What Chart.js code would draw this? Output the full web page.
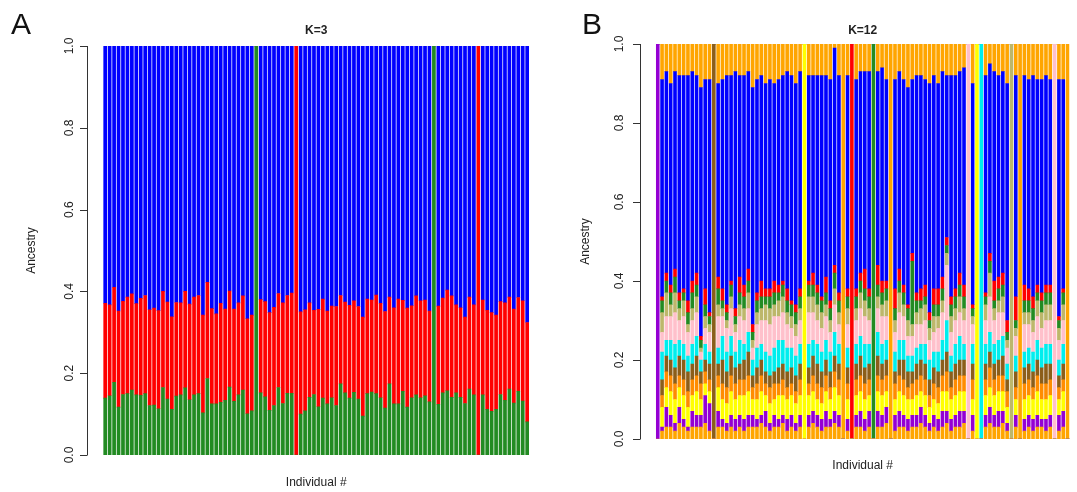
<!DOCTYPE html>
<html lang="en">
  <head>
    <meta charset="UTF-8" />
    <title>Ancestry K=3 / K=12</title>
    <script src="https://cdn.jsdelivr.net/npm/chart.js"></script>
    <style>
      body { margin: 0; background: #fff; }
      #wrap { position: relative; width: 1077px; height: 492px; }
      canvas { position: absolute; top: 0; }
      #chartA { left: 0; }
      #chartB { left: 540px; }
    </style>
  </head>
  <body>
    <div id="wrap">
      <canvas id="chartA" width="540" height="492"></canvas>
      <canvas id="chartB" width="537" height="492"></canvas>
    </div>
    <script>
      // 96 individuals, same order in both panels
      const individuals = Array.from({ length: 96 }, (_, i) => String(i + 1));
      const yTicks = [0, 0.2, 0.4, 0.6, 0.8, 1];
      const yTickLabels = ["0.0", "0.2", "0.4", "0.6", "0.8", "1.0"];
      const yTitle = "Ancestry";
      const xTitle = "Individual #";

      // Panel A (K=3): cumulative ancestry, top edge of each cluster segment
      const aGreenTop = [
        .139, .145, .178, .117, .148, .150, .159, .147, .146, .150, .121, .122,
        .113, .165, .137, .112, .144, .147, .164, .135, .147, .150, .103, .187,
        .125, .125, .129, .134, .166, .131, .147, .159, .101, .108, 1, .152,
        .142, .109, .121, .165, .126, .151, .151, 0, .100, .108, .141, .148,
        .118, .139, .125, .140, .121, .174, .152, .139, .153, .137, .095, .150,
        .154, .150, .140, .115, .174, .125, .125, .156, .117, .140, .147, .140,
        .145, .130, 1, .124, .152, .157, .141, .152, .141, .126, .161, .147,
        0, .147, .112, .107, .112, .148, .134, .161, .127, .156, .132, .081
      ];
      const aRedTop = [
        .371, .367, .410, .352, .376, .386, .394, .370, .383, .390, .355, .359,
        .353, .400, .374, .338, .373, .372, .400, .369, .386, .390, .342, .422,
        .358, .345, .371, .357, .401, .357, .372, .389, .333, .342, 1, .380,
        .375, .348, .361, .395, .372, .390, .396, 1, .350, .355, .372, .354,
        .356, .381, .352, .364, .363, .390, .374, .366, .377, .363, .337, .381,
        .379, .391, .371, .351, .386, .360, .381, .378, .359, .365, .389, .377,
        .379, .352, 1, .364, .384, .403, .389, .367, .360, .337, .386, .367,
        1, .379, .354, .348, .342, .375, .372, .386, .357, .385, .377, .324
      ];

      // Panel B (K=12): cumulative ancestry, bottom to top
      const cumOrangeLow = [
        0, .02, .03, .03, .02, .04, .03, .02, .03, .03, .03, .04,
        .02, 0, .03, .03, .02, .03, .02, .03, .02, .03, .03, .03,
        .04, .03, .02, .03, .03, .04, .02, .03, .02, .03, 0, .03,
        .04, .03, .02, .03, .03, .04, .03, 0, .02, 0, .03, .03,
        .02, .03, 0, .03, .03, .04, 0, .02, .03, .03, .02, .03,
        .03, .04, .03, .02, .03, .02, .03, .04, .02, .03, .03, .04,
        0, .02, 0, 0, .03, .04, .03, .03, .04, .02, 0, .03,
        0, .02, .03, .02, .03, .03, .02, .03, 0, .02, .03, 0
      ];
      const cumPurple = [
        1, .03, .08, .06, .04, .08, .05, .03, .07, .06, .06, .11,
        .09, 0, .07, .05, .04, .06, .05, .06, .05, .06, .06, .05,
        .06, .07, .04, .06, .05, .06, .05, .06, .04, .06, 0, .06,
        .07, .06, .05, .07, .05, .07, .06, 0, .05, 0, .06, .07,
        .05, .07, 0, .07, .06, .08, 0, .06, .07, .06, .05, .06,
        .06, .08, .06, .04, .06, .05, .07, .07, .05, .06, .07, .07,
        0, .06, 0, 0, .06, .08, .06, .07, .07, .04, 0, .06,
        0, .05, .06, .05, .06, .05, .05, .06, 0, .06, .07, 0
      ];
      const cumYellow = [
        1, .08, .13, .12, .10, .13, .11, .08, .11, .12, .10, .14,
        .12, 0, .13, .10, .09, .12, .10, .11, .11, .12, .10, .10,
        .12, .11, .09, .10, .11, .11, .10, .11, .09, .11, 1, .11,
        .12, .10, .09, .12, .10, .13, .11, 0, .10, 0, .11, .12,
        .10, .11, 0, .12, .11, .12, 0, .10, .12, .11, .10, .10,
        .11, .12, .11, .08, .10, .09, .12, .12, .10, .11, .12, .12,
        0, .10, 1, 0, .11, .13, .11, .12, .12, .08, 0, .10,
        0, .10, .11, .10, .12, .10, .10, .11, 0, .10, .12, 0
      ];
      const cumDarkOrange = [
        1, .11, .17, .16, .14, .16, .15, .12, .15, .16, .14, .17,
        .15, 0, .16, .14, .13, .16, .14, .15, .15, .16, .13, .14,
        .16, .14, .13, .14, .14, .15, .13, .14, .12, .15, 1, .14,
        .16, .14, .13, .16, .13, .17, .15, 0, .14, 0, .15, .16,
        .14, .15, 0, .16, .15, .16, 0, .14, .16, .15, .13, .14,
        .15, .16, .15, .11, .14, .13, .16, .17, .13, .15, .16, .16,
        0, .15, 1, 0, .15, .18, .15, .16, .16, .12, 0, .13,
        0, .14, .15, .13, .16, .14, .14, .15, 0, .13, .15, 0
      ];
      const cumBrown = [
        1, .15, .21, .20, .18, .21, .20, .17, .19, .21, .17, .20,
        .19, 1, .19, .20, .17, .21, .18, .19, .20, .22, .16, .18,
        .20, .17, .16, .17, .18, .19, .17, .18, .16, .19, 1, .18,
        .21, .19, .17, .20, .17, .21, .19, 0, .18, 0, .19, .21,
        .18, .19, 0, .21, .19, .20, 0, .17, .20, .20, .17, .17,
        .19, .20, .19, .15, .18, .17, .20, .22, .17, .19, .20, .20,
        0, .19, 1, 0, .19, .22, .19, .20, .21, .15, 0, .17,
        0, .18, .19, .17, .20, .18, .19, .19, 0, .16, .19, 0
      ];
      const cumCyan = [
        1, .22, .25, .25, .24, .25, .24, .21, .24, .26, .20, .24,
        .22, 1, .23, .26, .22, .26, .22, .25, .24, .27, .20, .23,
        .24, .22, .21, .23, .25, .25, .23, .23, .21, .24, 1, .24,
        .25, .24, .22, .25, .22, .27, .24, 0, .23, 0, .24, .26,
        .24, .24, 0, .27, .24, .25, 0, .22, .25, .25, .21, .21,
        .23, .24, .24, .20, .22, .22, .25, .30, .21, .24, .26, .24,
        0, .24, 1, 1, .24, .27, .24, .25, .26, .19, 0, .21,
        0, .22, .23, .22, .25, .23, .24, .24, 0, .20, .24, 0
      ];
      const cumPink = [
        1, .27, .31, .31, .32, .30, .31, .27, .30, .32, .22, .28,
        .27, 1, .31, .31, .28, .33, .27, .31, .30, .33, .23, .29,
        .30, .30, .29, .31, .31, .32, .29, .28, .26, .30, 1, .32,
        .32, .30, .28, .31, .27, .34, .29, 0, .29, 0, .30, .33,
        .31, .30, 0, .33, .31, .31, 0, .27, .32, .31, .26, .26,
        .29, .29, .30, .25, .27, .28, .32, .44, .27, .30, .32, .30,
        1, .29, 1, 1, .30, .36, .30, .32, .32, .23, 0, .26,
        0, .29, .29, .27, .31, .28, .30, .30, 1, .25, .30, 0
      ];
      const cumKhaki = [
        1, .32, .37, .34, .37, .33, .35, .29, .33, .36, .23, .31,
        .29, 1, .34, .33, .30, .36, .29, .34, .33, .37, .25, .32,
        .33, .34, .33, .34, .35, .36, .32, .31, .29, .33, 1, .36,
        .36, .34, .32, .34, .30, .38, .32, 0, .33, 0, .33, .37,
        .35, .33, 0, .36, .34, .35, 0, .30, .37, .34, .30, .29,
        .32, .33, .34, .28, .31, .31, .35, .47, .31, .33, .36, .33,
        1, .31, 1, 1, .34, .42, .33, .35, .36, .25, 1, .28,
        0, .32, .32, .30, .35, .32, .34, .34, 1, .28, .34, 0
      ];
      const cumGreen = [
        1, .35, .40, .37, .41, .35, .37, .32, .37, .39, .25, .34,
        .31, 1, .38, .35, .32, .39, .31, .37, .36, .40, .27, .35,
        .36, .36, .36, .37, .37, .39, .35, .34, .32, .36, 1, .39,
        .39, .37, .35, .37, .33, .42, .35, 0, .36, 0, .36, .40,
        .38, .36, 1, .39, .37, .38, 0, .33, .40, .37, .33, .45,
        .35, .35, .36, .30, .34, .34, .38, .49, .34, .36, .39, .36,
        1, .33, 1, 1, .36, .45, .35, .38, .39, .27, 1, .30,
        0, .35, .35, .33, .37, .35, .37, .37, 1, .30, .37, 0
      ];
      const cumRed = [
        1, .36, .42, .39, .43, .37, .38, .35, .40, .42, .26, .38,
        .32, 1, .41, .38, .34, .40, .33, .41, .39, .43, .29, .37,
        .40, .38, .38, .40, .39, .40, .38, .35, .34, .38, 1, .40,
        .42, .39, .36, .41, .35, .44, .37, 0, .38, 1, .38, .42,
        .43, .38, 1, .44, .40, .40, 0, .38, .43, .39, .34, .47,
        .37, .38, .39, .32, .38, .38, .41, .51, .36, .38, .42, .39,
        1, .34, 1, 1, .37, .47, .40, .41, .42, .30, 1, .36,
        0, .39, .38, .36, .39, .37, .39, .39, 1, .31, .38, 0
      ];
      const cumBlue = [
        1, .91, .93, .90, .93, .92, .92, .92, .93, .92, .89, .91,
        .91, 1, .90, .91, .92, .92, .93, .92, .92, .93, .89, .91,
        .92, .90, .91, .90, .91, .92, .93, .92, .90, .93, 1, .92,
        .92, .92, .92, .92, .91, .99, .92, 0, .92, 1, .91, .93,
        .93, .93, 1, .93, .94, .91, 0, .91, .93, .91, .89, .91,
        .92, .92, .91, .90, .92, .90, .93, .92, .92, .92, .93, .94,
        1, .90, 1, 1, .92, .95, .93, .92, .93, .90, 1, .92,
        0, .92, .91, .92, .91, .91, .92, .91, 1, .91, .91, 0
      ];

      const colorsA = ["#228B22", "#FF0000", "#0000FF"];
      const colorsB = [
        "#FFA500", "#9400D3", "#FFFF00", "#FF8C00", "#8B5E1A", "#00EEEE",
        "#FFC0CB", "#BDB76B", "#228B22", "#FF0000", "#0000FF", "#FFA500"
      ];

      const FONT = '"Liberation Sans", Arial, sans-serif';

      // floating segments [low, high] from cumulative tops
      function segments(tops, colors) {
        return colors.map((c, k) => ({
          data: individuals.map((_, i) => [
            k === 0 ? 0 : tops[k - 1][i],
            k === tops.length ? 1 : tops[k][i],
          ]),
          backgroundColor: c,
          borderWidth: 0,
          grouped: false,
          barPercentage: 0.7,
          categoryPercentage: 1,
          inflateAmount: 0.3,
        }));
      }

      // R-style axis, titles and panel letter
      const rFrame = {
        id: "rFrame",
        afterDraw(chart, args, o) {
          const ctx = chart.ctx;
          const y = chart.scales.y;
          const area = chart.chartArea;
          const top = y.getPixelForValue(1);
          const bot = y.getPixelForValue(0);
          const mid = (area.left + area.right) / 2;
          ctx.save();
          ctx.strokeStyle = "#333";
          ctx.lineWidth = 1;
          ctx.beginPath();
          ctx.moveTo(o.axisX + 0.5, top);
          ctx.lineTo(o.axisX + 0.5, bot);
          yTicks.forEach((v) => {
            const p = Math.round(y.getPixelForValue(v)) + 0.5;
            ctx.moveTo(o.axisX - 7, p);
            ctx.lineTo(o.axisX + 0.5, p);
          });
          ctx.stroke();

          ctx.fillStyle = "#222";
          ctx.textAlign = "center";
          ctx.textBaseline = "middle";
          ctx.font = "12px " + FONT;
          yTicks.forEach((v, i) => {
            ctx.save();
            ctx.translate(o.labelX, y.getPixelForValue(v));
            ctx.rotate(-Math.PI / 2);
            ctx.fillText(yTickLabels[i], 0, 0);
            ctx.restore();
          });
          ctx.save();
          ctx.translate(o.yTitleX, (top + bot) / 2);
          ctx.rotate(-Math.PI / 2);
          ctx.fillText(yTitle, 0, 0);
          ctx.restore();

          ctx.fillText(xTitle, mid, o.xTitleY);
          ctx.font = "bold 12px " + FONT;
          ctx.fillText(o.title, mid, 31);

          ctx.fillStyle = "#111";
          ctx.font = "30px " + FONT;
          ctx.textAlign = "left";
          ctx.textBaseline = "alphabetic";
          ctx.fillText(o.letter, o.letterX, 34);
          ctx.restore();
        },
      };

      function makeChart(id, datasets, padding, frame) {
        return new Chart(document.getElementById(id), {
          type: "bar",
          data: { labels: individuals, datasets },
          options: {
            responsive: false,
            animation: false,
            devicePixelRatio: 1,
            layout: { padding },
            scales: {
              x: { display: false, offset: true },
              y: { display: false, min: 0, max: 1 },
            },
            plugins: {
              legend: { display: false },
              tooltip: { enabled: false },
              rFrame: frame,
            },
          },
          plugins: [rFrame],
        });
      }

      makeChart(
        "chartA",
        segments([aGreenTop, aRedTop], colorsA),
        { left: 103, right: 10.6, top: 46, bottom: 37 },
        { axisX: 87, labelX: 70, yTitleX: 32, xTitleY: 483, title: "K=3", letter: "A", letterX: 11 }
      );

      makeChart(
        "chartB",
        segments(
          [cumOrangeLow, cumPurple, cumYellow, cumDarkOrange, cumBrown, cumCyan,
           cumPink, cumKhaki, cumGreen, cumRed, cumBlue],
          colorsB
        ),
        { left: 115.6, right: 7.3, top: 44, bottom: 53 },
        { axisX: 100, labelX: 80, yTitleX: 46, xTitleY: 466, title: "K=12", letter: "B", letterX: 42 }
      );
    </script>
  </body>
</html>
